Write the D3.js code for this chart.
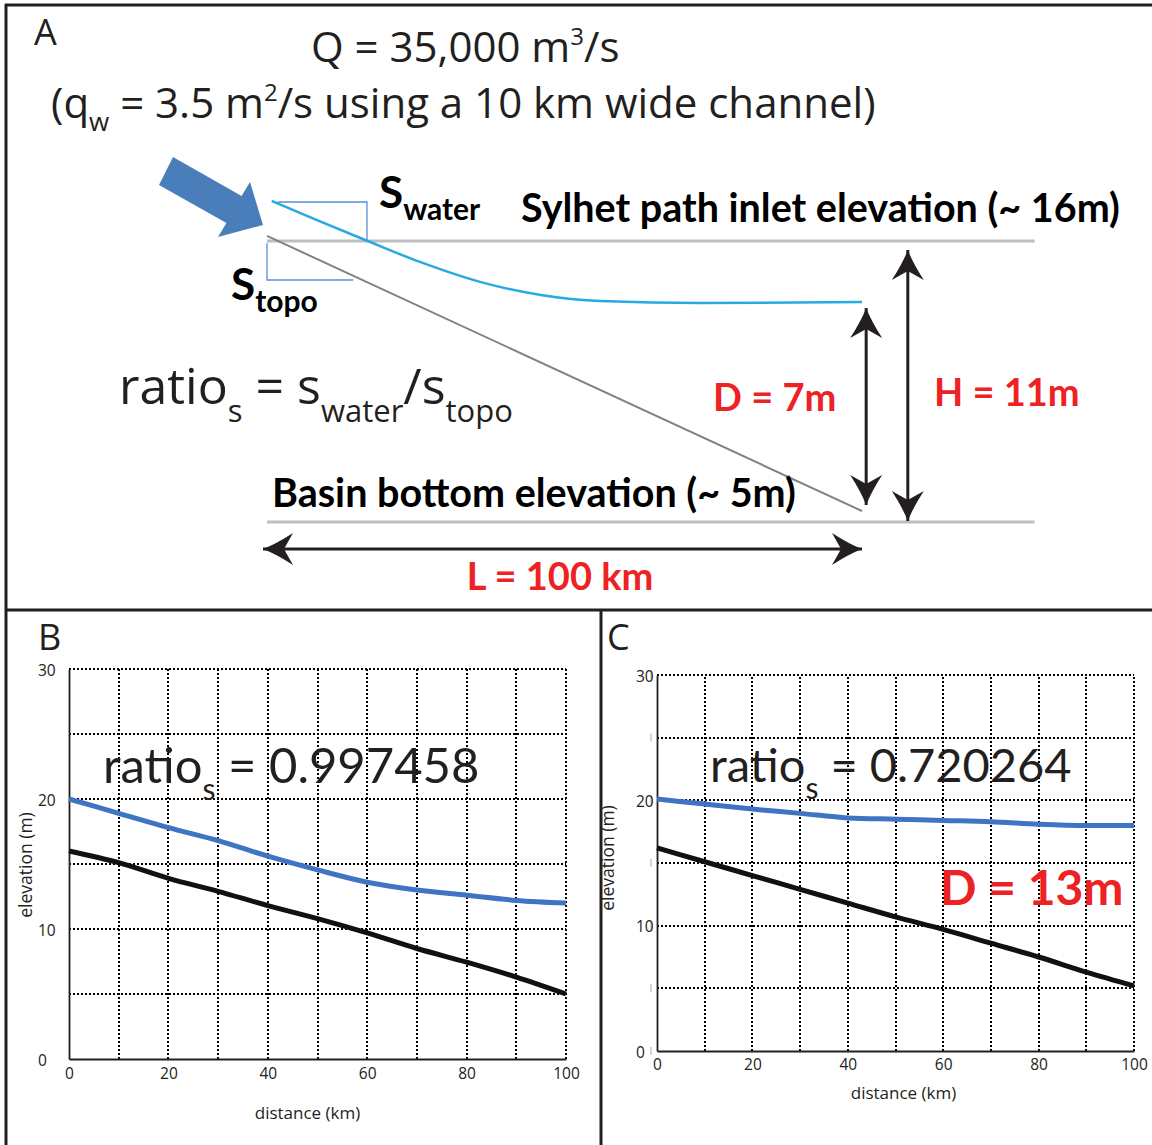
<!DOCTYPE html>
<html>
<head>
<meta charset="utf-8">
<script src="https://cdn.jsdelivr.net/npm/d3@7"></script>
<style>
	body { margin: 0; background: #fff; }
	svg { display: block; }
	.reg { font-family: 'Open Sans', sans-serif; }
	.lato { font-family: Lato, sans-serif; }
	.bold { font-family: Lato, 'Open Sans', sans-serif; font-weight: bold; }
	.tick text { font-family: 'Open Sans', sans-serif; fill: #222; }
</style>
</head>
<body>
<div id="chart"></div>
<script>
// ---- data ----
// panel A (schematic, km / m)
var schemDist = [0.8, 8, 16.5, 25.7, 35.8, 46, 56, 73, 100];
var schemWater = [17.57, 16.86, 16.04, 15.18, 14.4, 13.89, 13.65, 13.57, 13.61];
var schemTopoDist = [0, 100];
var schemTopo = [16.2, 5.43];
var inletElev = 16;
var basinElev = 5;

// panels B and C (distance km, elevation m)
var distKm = [0, 10, 20, 30, 40, 50, 60, 70, 80, 90, 100];
var waterB = [20.0, 18.9, 17.8, 16.8, 15.6, 14.55, 13.6, 13.0, 12.6, 12.2, 12.0];
var topoB = [16.0, 15.1, 13.9, 12.9, 11.8, 10.8, 9.7, 8.5, 7.45, 6.3, 5.0];
var waterC = [20.1, 19.7, 19.3, 18.96, 18.6, 18.5, 18.4, 18.3, 18.1, 18.0, 18.0];
var topoC = [16.2, 15.1, 14.0, 12.9, 11.8, 10.7, 9.7, 8.6, 7.5, 6.3, 5.2];
var xTicks = [0, 20, 40, 60, 80, 100];
var yTicks = [0, 10, 20, 30];
var gridX = [10, 20, 30, 40, 50, 60, 70, 80, 90, 100];
var gridY = [5, 10, 15, 20, 25, 30];

var width = 1152;
var height = 1145;
var red = '#ed2224';

var svg = d3.select('#chart')
	.append('svg')
	.attr('width', width)
	.attr('height', height);

var defs = svg.append('defs');
defs.append('marker')
	.attr('id', 'head')
	.attr('markerUnits', 'userSpaceOnUse')
	.attr('viewBox', '-32 -17 34 34')
	.attr('markerWidth', 34)
	.attr('markerHeight', 34)
	.attr('refX', 0)
	.attr('refY', 0)
	.attr('orient', 'auto-start-reverse')
	.append('path')
	.attr('d', 'M0,0 Q-13,-5 -30,-16 L-21,0 L-30,16 Q-13,5 0,0Z')
	.attr('fill', '#231f20');

// ---- frames ----
var frame = svg.append('g').attr('stroke', '#231f20').attr('stroke-width', 3);
frame.append('line').attr('x1', 5).attr('x2', width).attr('y1', 5).attr('y2', 5);
frame.append('line').attr('x1', 6).attr('x2', 6).attr('y1', 4).attr('y2', height);
frame.append('line').attr('x1', 5).attr('x2', width).attr('y1', 610).attr('y2', 610);
frame.append('line').attr('x1', 601).attr('x2', 601).attr('y1', 610).attr('y2', height);

// ---- panel A ----
var gA = svg.append('g');
var xA = d3.scaleLinear().domain([0, 100]).range([267, 862]);
var yA = d3.scaleLinear().domain([basinElev, inletElev]).range([522, 241]);

gA.append('text').attr('class', 'reg').attr('x', 34).attr('y', 45)
	.attr('font-size', 36).attr('fill', '#231f20').text('A');

var t1 = gA.append('text').attr('class', 'reg').attr('x', 311).attr('y', 62)
	.attr('font-size', 42).attr('fill', '#231f20');
t1.append('tspan').text('Q = 35,000 m');
t1.append('tspan').attr('font-size', 24).attr('dy', -17).text('3');
t1.append('tspan').attr('dy', 17).text('/s');

var t2 = gA.append('text').attr('class', 'reg').attr('x', 51).attr('y', 118)
	.attr('font-size', 42).attr('fill', '#231f20');
t2.append('tspan').text('(q');
t2.append('tspan').attr('font-size', 26).attr('dy', 13).text('w');
t2.append('tspan').attr('dy', -13).text(' = 3.5 m');
t2.append('tspan').attr('font-size', 24).attr('dy', -17).text('2');
t2.append('tspan').attr('dy', 17).text('/s using a 10 km wide channel)');

// reference elevations
gA.selectAll('.ref')
	.data([inletElev, basinElev])
	.enter()
	.append('line')
	.attr('class', 'ref')
	.attr('x1', xA(0))
	.attr('x2', xA(129))
	.attr('y1', function(d){ return yA(d); })
	.attr('y2', function(d){ return yA(d); })
	.attr('stroke', '#bcbec0')
	.attr('stroke-width', 3);

// slope boxes
gA.append('path')
	.attr('d', 'M' + xA(1.8) + ',' + 202 + 'H' + xA(16.8) + 'V' + yA(inletElev))
	.attr('fill', 'none').attr('stroke', '#5b8fd6').attr('stroke-width', 1.3);
gA.append('path')
	.attr('d', 'M' + xA(0) + ',' + (yA(inletElev) + 2) + 'V' + 280 + 'H' + xA(14.5))
	.attr('fill', 'none').attr('stroke', '#5b8fd6').attr('stroke-width', 1.3);

// topo line
gA.append('path')
	.datum(schemTopoDist.map(function(d, i){ return [d, schemTopo[i]]; }))
	.attr('d', d3.line()
		.x(function(d){ return xA(d[0]); })
		.y(function(d){ return yA(d[1]); }))
	.attr('fill', 'none').attr('stroke', '#808285').attr('stroke-width', 2);

// water line
gA.append('path')
	.datum(schemDist.map(function(d, i){ return [d, schemWater[i]]; }))
	.attr('d', d3.line()
		.curve(d3.curveMonotoneX)
		.x(function(d){ return xA(d[0]); })
		.y(function(d){ return yA(d[1]); }))
	.attr('fill', 'none').attr('stroke', '#27aae1').attr('stroke-width', 2.5);

// inflow arrow
gA.append('polygon')
	.attr('points', '173,157 241.6,196 250,182 263,225 218,237 226.4,223 159,185')
	.attr('fill', '#4a7ebb');

// slope labels
var sw = gA.append('text').attr('class', 'bold').attr('x', 379).attr('y', 208)
	.attr('font-size', 44).attr('fill', '#000');
sw.append('tspan').text('S');
sw.append('tspan').attr('font-size', 30).attr('dy', 12).text('water');

var st = gA.append('text').attr('class', 'bold').attr('x', 231).attr('y', 300)
	.attr('font-size', 44).attr('fill', '#000');
st.append('tspan').text('S');
st.append('tspan').attr('font-size', 30).attr('dy', 12).text('topo');

gA.append('text').attr('class', 'bold').attr('x', 521).attr('y', 222)
	.attr('font-size', 39.5).attr('fill', '#000')
	.text('Sylhet path inlet elevation (~ 16m)');
gA.append('text').attr('class', 'bold').attr('x', 272).attr('y', 507)
	.attr('font-size', 39.5).attr('fill', '#000')
	.text('Basin bottom elevation (~ 5m)');

var rt = gA.append('text').attr('class', 'reg').attr('x', 119).attr('y', 404)
	.attr('font-size', 50).attr('fill', '#231f20');
rt.append('tspan').text('ratio');
rt.append('tspan').attr('font-size', 31).attr('dy', 18).text('s');
rt.append('tspan').attr('dy', -18).text(' = s');
rt.append('tspan').attr('font-size', 31).attr('dy', 18).text('water');
rt.append('tspan').attr('dy', -18).text('/s');
rt.append('tspan').attr('font-size', 31).attr('dy', 18).text('topo');

// dimension arrows
var dims = gA.append('g').attr('stroke', '#231f20').attr('stroke-width', 3);
dims.append('line')
	.attr('x1', xA(100.7)).attr('x2', xA(100.7))
	.attr('y1', yA(schemWater[schemWater.length - 1]) + 6).attr('y2', yA(schemTopo[1]) - 6)
	.attr('marker-start', 'url(#head)').attr('marker-end', 'url(#head)');
dims.append('line')
	.attr('x1', xA(107.7)).attr('x2', xA(107.7))
	.attr('y1', yA(inletElev) + 9).attr('y2', yA(basinElev) - 1)
	.attr('marker-start', 'url(#head)').attr('marker-end', 'url(#head)');
dims.append('line')
	.attr('x1', xA(0) - 4).attr('x2', xA(100))
	.attr('y1', 549).attr('y2', 549)
	.attr('marker-start', 'url(#head)').attr('marker-end', 'url(#head)');

gA.append('text').attr('class', 'bold').attr('x', 713).attr('y', 411)
	.attr('font-size', 38).attr('fill', red).text('D = 7m');
gA.append('text').attr('class', 'bold').attr('x', 934).attr('y', 406)
	.attr('font-size', 38).attr('fill', red).text('H = 11m');
gA.append('text').attr('class', 'bold').attr('x', 560).attr('y', 590)
	.attr('text-anchor', 'middle')
	.attr('font-size', 38).attr('fill', red).text('L = 100 km');

// ---- panels B and C ----
function drawProfile(opt){
	var g = svg.append('g');
	var x = d3.scaleLinear().domain([0, 100]).range([opt.left, opt.right]);
	var y = d3.scaleLinear().domain([0, 30]).range([opt.bottom, opt.top]);

	g.append('text').attr('class', 'reg').attr('x', opt.labelX).attr('y', 650)
		.attr('font-size', 36).attr('fill', '#231f20').text(opt.label);

	// dotted grid
	g.selectAll('.gx')
		.data(gridX)
		.enter()
		.append('line')
		.attr('x1', function(d){ return Math.round(x(d)); })
		.attr('x2', function(d){ return Math.round(x(d)); })
		.attr('y1', y(0)).attr('y2', y(30))
		.attr('stroke', '#000').attr('stroke-width', 2)
		.attr('stroke-dasharray', '2,2')
		.attr('shape-rendering', 'crispEdges');
	g.selectAll('.gy')
		.data(gridY)
		.enter()
		.append('line')
		.attr('x1', x(0)).attr('x2', x(100))
		.attr('y1', function(d){ return Math.round(y(d)); })
		.attr('y2', function(d){ return Math.round(y(d)); })
		.attr('stroke', '#000').attr('stroke-width', 2)
		.attr('stroke-dasharray', '2,2')
		.attr('shape-rendering', 'crispEdges');

	if (opt.stubs) {
		g.selectAll('.stub')
			.data(gridY.concat([0]))
			.enter()
			.append('line')
			.attr('x1', x(0) - 6).attr('x2', x(0) - 6)
			.attr('y1', function(d){ return y(d) - 4; })
			.attr('y2', function(d){ return y(d) + 4; })
			.attr('stroke', '#aaa').attr('stroke-width', 1);
	}

	var xAxis = g.append('g')
		.attr('transform', 'translate(0,' + y(0) + ')')
		.call(d3.axisBottom(x).tickValues(xTicks).tickSize(0).tickPadding(opt.xPad));
	var yAxis = g.append('g')
		.attr('transform', 'translate(' + x(0) + ',0)')
		.call(d3.axisLeft(y).tickValues(yTicks).tickSize(0));
	xAxis.select('.domain').attr('stroke', '#231f20').attr('stroke-width', 1.8);
	yAxis.select('.domain').attr('stroke', '#231f20').attr('stroke-width', 1.8);
	xAxis.selectAll('text').attr('font-size', 15.5);
	yAxis.selectAll('text')
		.attr('font-size', 15.5)
		.attr('text-anchor', 'start')
		.attr('x', opt.yLabelX)
		.attr('dy', '0.4em');

	g.append('text').attr('font-family', "'Open Sans', sans-serif")
		.attr('font-size', 17).attr('fill', '#231f20')
		.attr('text-anchor', 'middle')
		.attr('x', (opt.left + opt.right) / 2 + opt.xTitleShift).attr('y', opt.bottom + opt.xTitleDy)
		.text('distance (km)');
	g.append('text').attr('font-family', "'Open Sans', sans-serif")
		.attr('font-size', 17.5).attr('fill', '#231f20')
		.attr('text-anchor', 'middle')
		.attr('transform', 'translate(' + opt.yTitleX + ',' + opt.yTitleY + ') rotate(-90)')
		.text('elevation (m)');

	var line = d3.line()
		.curve(d3.curveMonotoneX)
		.x(function(d){ return x(d[0]); })
		.y(function(d){ return y(d[1]); });

	g.append('path')
		.datum(distKm.map(function(d, i){ return [d, opt.topo[i]]; }))
		.attr('d', line)
		.attr('fill', 'none').attr('stroke', '#111').attr('stroke-width', 5);
	g.append('path')
		.datum(distKm.map(function(d, i){ return [d, opt.water[i]]; }))
		.attr('d', line)
		.attr('fill', 'none').attr('stroke', '#3f74c3').attr('stroke-width', 5);

	var r = g.append('text').attr('class', 'lato').attr('x', opt.ratioX).attr('y', opt.ratioY)
		.attr('font-size', opt.ratioSize).attr('fill', '#231f20');
	r.append('tspan').text('ratio');
	r.append('tspan').attr('font-size', 30).attr('dy', 17).text('s');
	r.append('tspan').attr('dy', -17).text(' = ' + opt.ratio);

	return g;
}

drawProfile({
	label: 'B', labelX: 38,
	left: 69, right: 566, top: 669, bottom: 1059,
	water: waterB, topo: topoB, ratio: '0.997458',
	ratioX: 103, ratioY: 783, ratioSize: 49,
	xPad: 9, yLabelX: -31, xTitleShift: -10, xTitleDy: 60,
	yTitleX: 32, yTitleY: 865, stubs: false
});

var gC = drawProfile({
	label: 'C', labelX: 607,
	left: 657, right: 1134, top: 675, bottom: 1051,
	water: waterC, topo: topoC, ratio: '0.720264',
	ratioX: 710, ratioY: 782, ratioSize: 47,
	xPad: 8, yLabelX: -21, xTitleShift: 8, xTitleDy: 48,
	yTitleX: 614, yTitleY: 858, stubs: true
});

gC.append('text').attr('class', 'bold').attr('x', 940).attr('y', 905)
	.attr('font-size', 48).attr('fill', red).text('D = 13m');
</script>
</body>
</html>
